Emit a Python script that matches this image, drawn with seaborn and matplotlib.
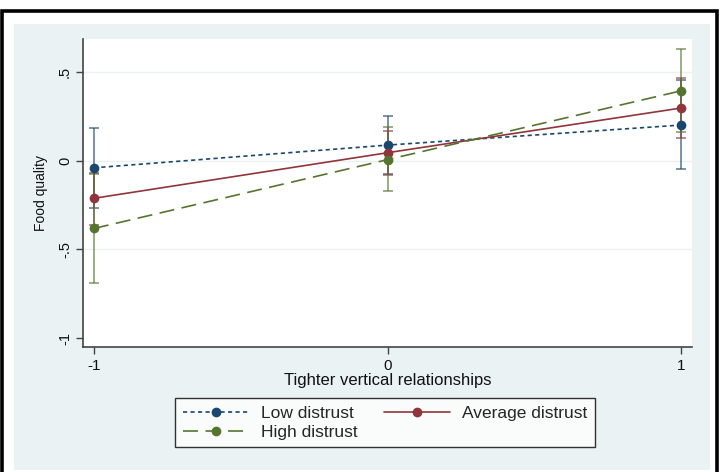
import matplotlib
matplotlib.use("Agg")
import matplotlib.pyplot as plt
import seaborn as sns
import pandas as pd
from matplotlib.lines import Line2D
from matplotlib.patches import Rectangle

# ---- data ----
x_levels = [-1, 0, 1]
groups = ["Low distrust", "Average distrust", "High distrust"]
low_mean = [-0.040, 0.088, 0.201]
low_lo = [-0.265, -0.076, -0.047]
low_hi = [0.186, 0.250, 0.457]
avg_mean = [-0.212, 0.045, 0.297]
avg_lo = [-0.360, -0.079, 0.128]
avg_hi = [-0.070, 0.165, 0.466]
high_mean = [-0.382, 0.006, 0.394]
high_lo = [-0.690, -0.173, 0.160]
high_hi = [-0.075, 0.188, 0.628]
y_ticks = [-1, -0.5, 0, 0.5]
y_ticklabels = ["-1", "-.5", "0", ".5"]
x_ticklabels = ["-1", "0", "1"]
x_label = "Tighter vertical relationships"
y_label = "Food quality"

means = [low_mean, avg_mean, high_mean]
los = [low_lo, avg_lo, high_lo]
his = [low_hi, avg_hi, high_hi]

rows = []
for g, m in zip(groups, means):
    for xv, yv in zip(x_levels, m):
        rows.append({"x": xv, "y": yv, "group": g})
df = pd.DataFrame(rows)

colors = {"Low distrust": "#1a476f", "Average distrust": "#90353b", "High distrust": "#55752f"}
dashes = {"Low distrust": (2.5, 2.0), "Average distrust": "", "High distrust": (9, 4.5)}
markers = {g: "o" for g in groups}

sns.set_theme(style="white")
plt.rcParams["font.family"] = ["Liberation Sans", "DejaVu Sans"]

W, H = 721, 472
fig = plt.figure(figsize=(W / 100, H / 100), dpi=100)
fig.patch.set_facecolor("white")

# outer black frame (bottom edge lies outside the image) and light background
fig.patches.append(Rectangle((1.8 / W, -5 / H), (717 - 1.8) / W, (461.5 + 5) / H,
                             transform=fig.transFigure, fill=False, edgecolor="black",
                             linewidth=2.6, zorder=0))
fig.patches.append(Rectangle((14 / W, (H - 470) / H), (710 - 14) / W, (470 - 24) / H,
                             transform=fig.transFigure, facecolor="#eaf2f3",
                             edgecolor="none", zorder=0))

ax = fig.add_axes([83 / W, (H - 347) / H, (692 - 83) / W, (347 - 39) / H])
ax.set_facecolor("white")
ax.set_zorder(1)

for yv in [-0.5, 0, 0.5]:
    ax.axhline(yv, color="#eaf2f3", lw=1.0, zorder=0)

# confidence intervals
for g, m, lo, hi in zip(groups, means, los, his):
    yerr = [[mm - l for mm, l in zip(m, lo)], [h - mm for mm, h in zip(m, hi)]]
    ax.errorbar(x_levels, m, yerr=yerr, fmt="none", ecolor=colors[g], elinewidth=1.1,
                capsize=3.5, capthick=1.1, alpha=0.75, zorder=2)

sns.lineplot(data=df, x="x", y="y", hue="group", style="group", palette=colors,
             dashes=dashes, markers=markers, markersize=7, markeredgewidth=0,
             linewidth=1.2, legend=False, ax=ax, zorder=3, hue_order=groups,
             style_order=groups)

ax.set_xlim(-1.037, 1.037)
ax.set_ylim(-1.05, 0.686)
ax.set_xticks(x_levels)
ax.set_xticklabels(x_ticklabels, fontsize=11, color="#111111")
ax.set_yticks(y_ticks)
ax.set_yticklabels(y_ticklabels, fontsize=10.5, rotation=90, va="center", color="#111111")
ax.tick_params(axis="x", direction="out", length=5, width=1, color="#444444",
               pad=4, bottom=True)
ax.tick_params(axis="y", direction="out", length=5, width=1, color="#444444",
               pad=3, left=True)
ax.set_xlabel(x_label, fontsize=12, labelpad=0, color="#111111")
ax.set_ylabel(y_label, fontsize=10, labelpad=7, color="#111111")
for s in ["top", "right"]:
    ax.spines[s].set_visible(False)
for s in ["left", "bottom"]:
    ax.spines[s].set_color("#444444")
    ax.spines[s].set_linewidth(1.2)

handles = []
for g in ["Low distrust", "High distrust", "Average distrust"]:
    ls = "-" if dashes[g] == "" else (0, dashes[g])
    handles.append(Line2D([], [], color=colors[g], lw=1.2, linestyle=ls, marker="o",
                          markersize=7, markeredgewidth=0))
labels = ["Low distrust", "High distrust", "Average distrust"]
leg = fig.legend(handles, labels, ncol=2, loc="upper left",
                 bbox_to_anchor=(175 / W, (H - 398) / H),
                 frameon=True, fancybox=False, fontsize=12.5,
                 handlelength=3.8, borderpad=0.45, labelspacing=0.2, handletextpad=0.7,
                 columnspacing=1.5, borderaxespad=0)
leg.get_frame().set_edgecolor("black")
leg.get_frame().set_linewidth(1.0)
leg.get_frame().set_facecolor("white")

fig.savefig("out.png", dpi=100)
